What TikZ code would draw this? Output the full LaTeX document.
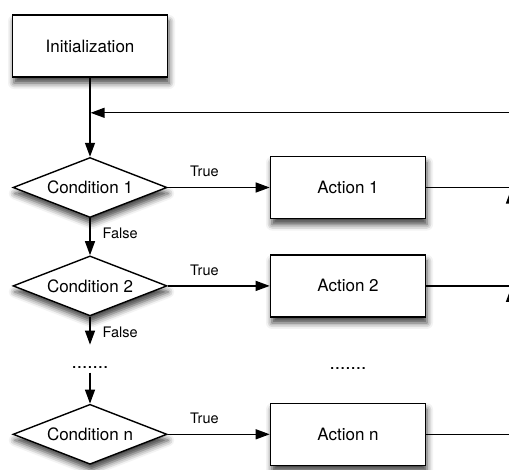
\documentclass[tikz,border=0pt]{standalone}
\usepackage{fontspec}
\setmainfont{TeX Gyre Heros}
\usepackage{tikz}
\usetikzlibrary{shapes.geometric,arrows.meta,positioning,calc,shadows.blur}

\begin{document}
\begin{tikzpicture}[
  node distance=37pt and 102pt,
  shd/.style={blur shadow={shadow xshift=1.5pt,shadow yshift=-6pt,
    shadow blur radius=6pt,shadow opacity=75}},
  pbox/.style={rectangle,draw=black,fill=white,line width=1.6pt,shd,
    minimum width=155pt,minimum height=62pt,inner sep=0pt,
    align=center,font=\fontsize{17}{20}\selectfont},
  cbox/.style={diamond,aspect=2.5,draw=black,fill=white,line width=1.4pt,shd,
    minimum width=154pt,minimum height=60pt,inner sep=0pt,
    font=\fontsize{17}{20}\selectfont},
  lbl/.style={font=\fontsize{14.5}{17}\selectfont,inner sep=1pt},
  dots/.style={font=\fontsize{19}{22}\selectfont,inner sep=0pt},
  arr/.style={-{Triangle[length=14pt,width=10pt]},line width=1.3pt},
  ln/.style={line width=1.3pt}
]
\useasboundingbox (0,0) rectangle (509pt,-469pt);
\clip (0,0) rectangle (509pt,-469pt);

\node[pbox] (init) at (90pt,-46pt) {Initialization};
\node[cbox,below=79pt of init] (cond1) {Condition 1};
\node[cbox,below=of cond1] (cond2) {Condition 2};
\node[dots,below=50pt of cond2] (dots1) {.......};
\node[cbox,below=87pt of cond2] (condn) {Condition n};

\node[pbox,right=of cond1] (act1) {Action 1};
\node[pbox,right=of cond2] (act2) {Action 2};
\node[dots,below=50pt of act2] (dots2) {.......};
\node[pbox,right=of condn] (actn) {Action n};

% free ends and the loop back
\coordinate[below=28pt of cond2] (f2);
\coordinate[above=31pt of condn] (fn);
\coordinate[below=35pt of init] (j0);
\coordinate (rt) at ($(j0)+(421pt,0)$);
\coordinate (r1) at (act1 -| rt);
\coordinate (r2) at (act2 -| rt);
\coordinate (rn) at (actn -| rt);

\draw[arr] (init) -- (cond1);
\draw[arr] (cond1) -- node[lbl,pos=0.36,above=9pt]{True} (act1);
\draw[arr] (cond1) -- node[lbl,pos=0.4,right=11pt]{False} (cond2);
\draw[arr] (cond2) -- node[lbl,pos=0.36,above=9pt]{True} (act2);
\draw[arr] (cond2) -- node[lbl,pos=0.55,right=11pt]{False} (f2);
\draw[arr] (fn) -- (condn);
\draw[arr] (condn) -- node[lbl,pos=0.36,above=9pt]{True} (actn);

\draw[ln] (act1) -- (r1);
\draw[ln] (act2) -- (r2);
\draw[ln] (actn) -- (rn);
\draw[arr,shorten >=2pt] (rn) -- (r2);
\draw[arr,shorten >=2pt] (r2) -- (r1);
\draw[arr,shorten >=0.6pt] (r1) -- (rt) -- (j0);
\end{tikzpicture}
\end{document}
